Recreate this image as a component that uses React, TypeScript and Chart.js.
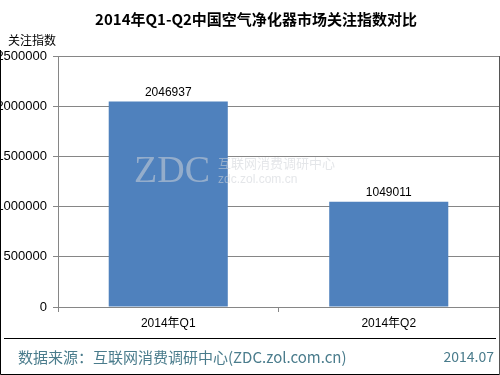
import React, { useEffect, useRef } from "react";
import { Chart, registerables } from "chart.js";

Chart.register(...registerables);

const categories = ["2014年Q1", "2014年Q2"];
const values = [2046937, 1049011];
const yTicks = [0, 500000, 1000000, 1500000, 2000000, 2500000];
const titleText = "2014年Q1-Q2中国空气净化器市场关注指数对比";
const yAxisTitle = "关注指数";
const sourceText = "数据来源：互联网消费调研中心(ZDC.zol.com.cn)";
const dateText = "2014.07";

const FONT = "'Liberation Sans', 'Noto Sans CJK SC', sans-serif";
const CJK = "'Noto Sans CJK SC', 'Liberation Sans', sans-serif";

const decorPlugin = {
  id: "decor",
  beforeDraw(chart: any) {
    const ctx = chart.ctx;
    ctx.save();
    ctx.fillStyle = "#ffffff";
    ctx.fillRect(0, 0, chart.width, chart.height);
    ctx.restore();
  },
  afterDatasetsDraw(chart: any) {
    const ctx = chart.ctx;
    const meta = chart.getDatasetMeta(0);
    ctx.save();
    // watermark
    ctx.fillStyle = "rgba(205,210,215,0.55)";
    ctx.textBaseline = "alphabetic";
    ctx.textAlign = "left";
    ctx.font = "38px 'Liberation Serif', serif";
    ctx.fillText("ZDC", 134, 182);
    ctx.font = "13px " + CJK;
    ctx.fillText("互联网消费调研中心", 218, 168);
    ctx.font = "12px " + FONT;
    ctx.fillText("zdc.zol.com.cn", 218, 183);
    // data labels
    ctx.fillStyle = "#000000";
    ctx.font = "12px " + FONT;
    ctx.textAlign = "center";
    ctx.textBaseline = "bottom";
    meta.data.forEach((bar: any, i: number) => {
      ctx.fillText(String(values[i]), bar.x, bar.y - 3);
    });
    ctx.restore();
  },
  afterDraw(chart: any) {
    const ctx = chart.ctx;
    const area = chart.chartArea;
    ctx.save();
    // title
    ctx.fillStyle = "#000000";
    ctx.font = "bold 15px " + CJK;
    ctx.textAlign = "center";
    ctx.textBaseline = "middle";
    ctx.fillText(titleText, 256, 19);
    // y axis title
    ctx.font = "12px " + CJK;
    ctx.textAlign = "left";
    ctx.fillText(yAxisTitle, 8, 40);
    // plot right border
    ctx.strokeStyle = "#555555";
    ctx.lineWidth = 1;
    ctx.beginPath();
    ctx.moveTo(area.right + 0.5, area.top);
    ctx.lineTo(area.right + 0.5, 375);
    ctx.stroke();
    // outer frame
    ctx.strokeStyle = "#000000";
    ctx.beginPath();
    ctx.moveTo(0.5, 50);
    ctx.lineTo(0.5, 374.5);
    ctx.lineTo(499, 374.5);
    ctx.stroke();
    // separator
    ctx.beginPath();
    ctx.moveTo(4, 338.5);
    ctx.lineTo(496, 338.5);
    ctx.stroke();
    // footer
    ctx.fillStyle = "#4a7c8c";
    ctx.font = "15px " + CJK;
    ctx.textBaseline = "middle";
    ctx.textAlign = "left";
    ctx.fillText(sourceText, 18, 357);
    ctx.font = "14px " + CJK;
    ctx.textAlign = "right";
    ctx.fillText(dateText, 494, 357);
    ctx.restore();
  },
};

export default function App() {
  const ref = useRef<HTMLCanvasElement>(null);
  useEffect(() => {
    if (!ref.current) return;
    const chart = new Chart(ref.current, {
      type: "bar",
      data: {
        labels: categories,
        datasets: [
          {
            data: values,
            backgroundColor: "#4f81bd",
            borderWidth: 0,
            categoryPercentage: 1,
            barPercentage: 0.54,
          },
        ],
      },
      options: {
        responsive: false,
        animation: false,
        devicePixelRatio: 1,
        layout: { padding: { top: 56, right: 1, left: 0, bottom: 0 } },
        plugins: {
          legend: { display: false },
          title: { display: false },
          tooltip: { enabled: false },
        },
        scales: {
          x: {
            offset: true,
            grid: {
              display: true,
              offset: true,
              drawOnChartArea: false,
              drawTicks: true,
              tickLength: 5,
              color: "#868686",
            },
            border: { display: true, color: "#868686" },
            ticks: {
              color: "#000000",
              font: { size: 12, family: FONT },
              padding: 4,
              maxRotation: 0,
            },
            afterFit(scale: any) {
              scale.height = 68;
            },
          },
          y: {
            min: 0,
            max: 2500000,
            afterBuildTicks(scale: any) {
              scale.ticks = yTicks.map((v) => ({ value: v }));
            },
            grid: {
              color: "#868686",
              tickLength: 5,
            },
            border: { display: true, color: "#868686" },
            ticks: {
              color: "#000000",
              font: { size: 13, family: FONT },
              padding: 6,
              callback: (v: any) => String(v),
            },
            afterFit(scale: any) {
              scale.width = 58;
            },
          },
        },
      },
      plugins: [decorPlugin],
    });
    return () => chart.destroy();
  }, []);
  return (
    <div style={{ position: "fixed", left: 0, top: 0, width: 500, height: 375, background: "#fff" }}>
      <canvas ref={ref} width={500} height={375} style={{ display: "block" }} />
    </div>
  );
}
